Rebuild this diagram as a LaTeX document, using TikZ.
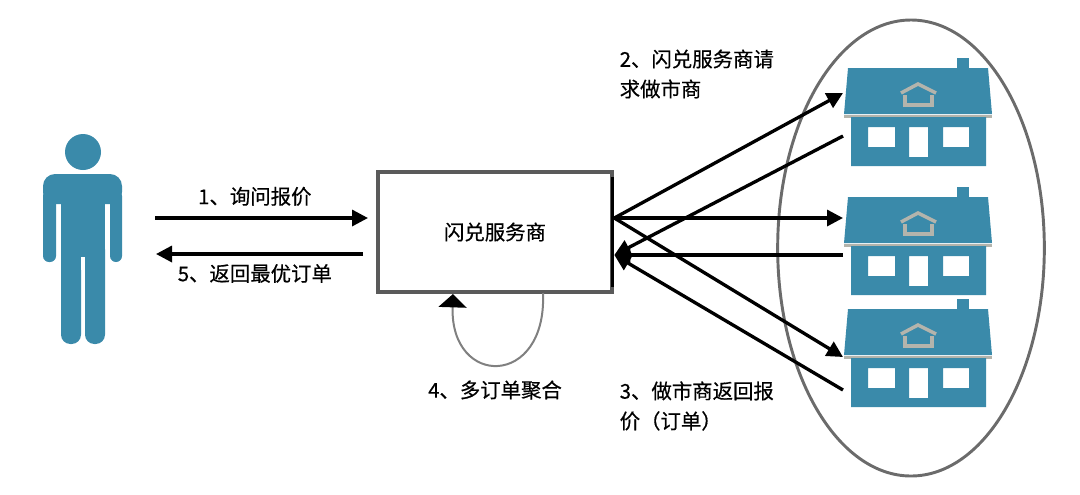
\documentclass[tikz,border=0pt]{standalone}
\usepackage{fontspec}
\setmainfont[FakeBold=0.5]{Noto Sans CJK SC}
\usetikzlibrary{shapes.geometric, arrows.meta, positioning, calc}
\definecolor{iconblue}{HTML}{3A8AAA}
\definecolor{iconpale}{HTML}{B4B4AC}
\definecolor{boxgray}{HTML}{5A5A5A}
\tikzset{
    link/.style={line width=2.5pt, draw=black},
    label/.style={font=\fontsize{15.3}{22.5}\selectfont, align=left},
    serverbox/.style={draw=boxgray, line width=3pt, minimum width=176pt, minimum height=90pt, font=\fontsize{15.3}{22.5}\selectfont},
    pics/house/.style={code={
        \fill[iconpale] (844,115) rectangle (992,117.5);
        \fill[iconblue] (957,58) rectangle (969,70);
        \fill[iconblue] (848,68) -- (988,68) -- (992,114) -- (844,114) -- cycle;
        \fill[iconblue,even odd rule] (851,117) rectangle (986,166)
            (868,127) rectangle (895,147) (909,127) rectangle (928,157) (943,127) rectangle (969,147);
        \draw[iconpale, line width=2.6pt] (901,93) -- (918,84) -- (936,93);
        \draw[iconpale, line width=2.4pt] (905,95) -- (905,105) -- (932,105) -- (932,95);
    }},
}

\begin{document}
\begin{tikzpicture}[x=0.75pt, y=-0.75pt, >={Triangle[length=12pt, width=12pt]}]
    \useasboundingbox (0,0) rectangle (1080,494);
    % person
    \fill[iconblue] (83,152) circle (18);
    \fill[iconblue, rounded corners=9pt] (43,174) rectangle (122,204);
    \fill[iconblue, rounded corners=4.5pt] (43,190) rectangle (56,262);
    \fill[iconblue, rounded corners=4.5pt] (110,190) rectangle (122,262);
    \fill[iconblue] (61,190) rectangle (105,262);
    \fill[iconblue, rounded corners=7pt] (61,240) rectangle (81,344);
    \fill[iconblue, rounded corners=7pt] (85,240) rectangle (105,344);
    \fill[white] (81,257) rectangle (85,270);
    % market makers
    \node[draw=boxgray!90, ellipse, line width=2.2pt, minimum width=200pt, minimum height=342pt, inner sep=0pt] (group) at (911,248) {};
    \pic (h1) at (0,0) {house};
    \pic (h2) at (0,129) {house};
    \pic (h3) at (0,241) {house};
    % server
    \node[serverbox] (srv) at (495,232) {\raisebox{-1pt}{闪兑服务商}};
    \coordinate (edgetop) at ($(srv.north east)+(-2,7)$);
    \coordinate (edgebot) at ($(srv.south east)+(-2,-7)$);
    \draw[link] (edgetop) -- (edgebot);
    \coordinate (srvout) at ($(srv.east)+(0,-14)$);
    \coordinate (srvin) at ($(srv.east)+(0,23)$);
    \coordinate (u1) at (155,218);
    \coordinate (s1) at (368,218);
    \coordinate (s5) at (363,254);
    \coordinate (u5) at (156,254);
    \coordinate (h1in) at (843,93);
    \coordinate (h1out) at (843,136);
    \coordinate (h2in) at (843,218);
    \coordinate (h2out) at (843,255);
    \coordinate (h3in) at (843,357);
    \coordinate (h3out) at (843,390);
    \coordinate (loopa) at (543,293);
    \coordinate (loopb) at (453,294);
    % links
    \draw[link,->] (u1) -- node[above=4.5pt, xshift=-5pt, label]{1、询问报价} (s1);
    \draw[link,->] (s5) -- node[below=3pt, xshift=-3.5pt, label]{5、返回最优订单} (u5);
    \draw[link,->] (srvout) -- (h1in);
    \draw[link,->] (srvout) -- (h2in);
    \draw[link,->] (srvout) -- (h3in);
    \draw[link,->] (h1out) -- (srvin);
    \draw[link,->] (h2out) -- (srvin);
    \draw[link,->] (h3out) -- (srvin);
    \draw[draw=gray, line width=1.5pt, -{Triangle[length=10pt, width=21pt, color=black]}] (loopa) .. controls (547,388) and (450,388) .. (loopb);
    % labels
    \node[label, anchor=west] (ask) at (615,74) {2、闪兑服务商请\\求做市商};
    \node[label, anchor=west] (quote) at (615,406) {3、做市商返回报\\价（订单）};
    \node[label] (merge) at (495,390) {4、多订单聚合};
\end{tikzpicture}
\end{document}
